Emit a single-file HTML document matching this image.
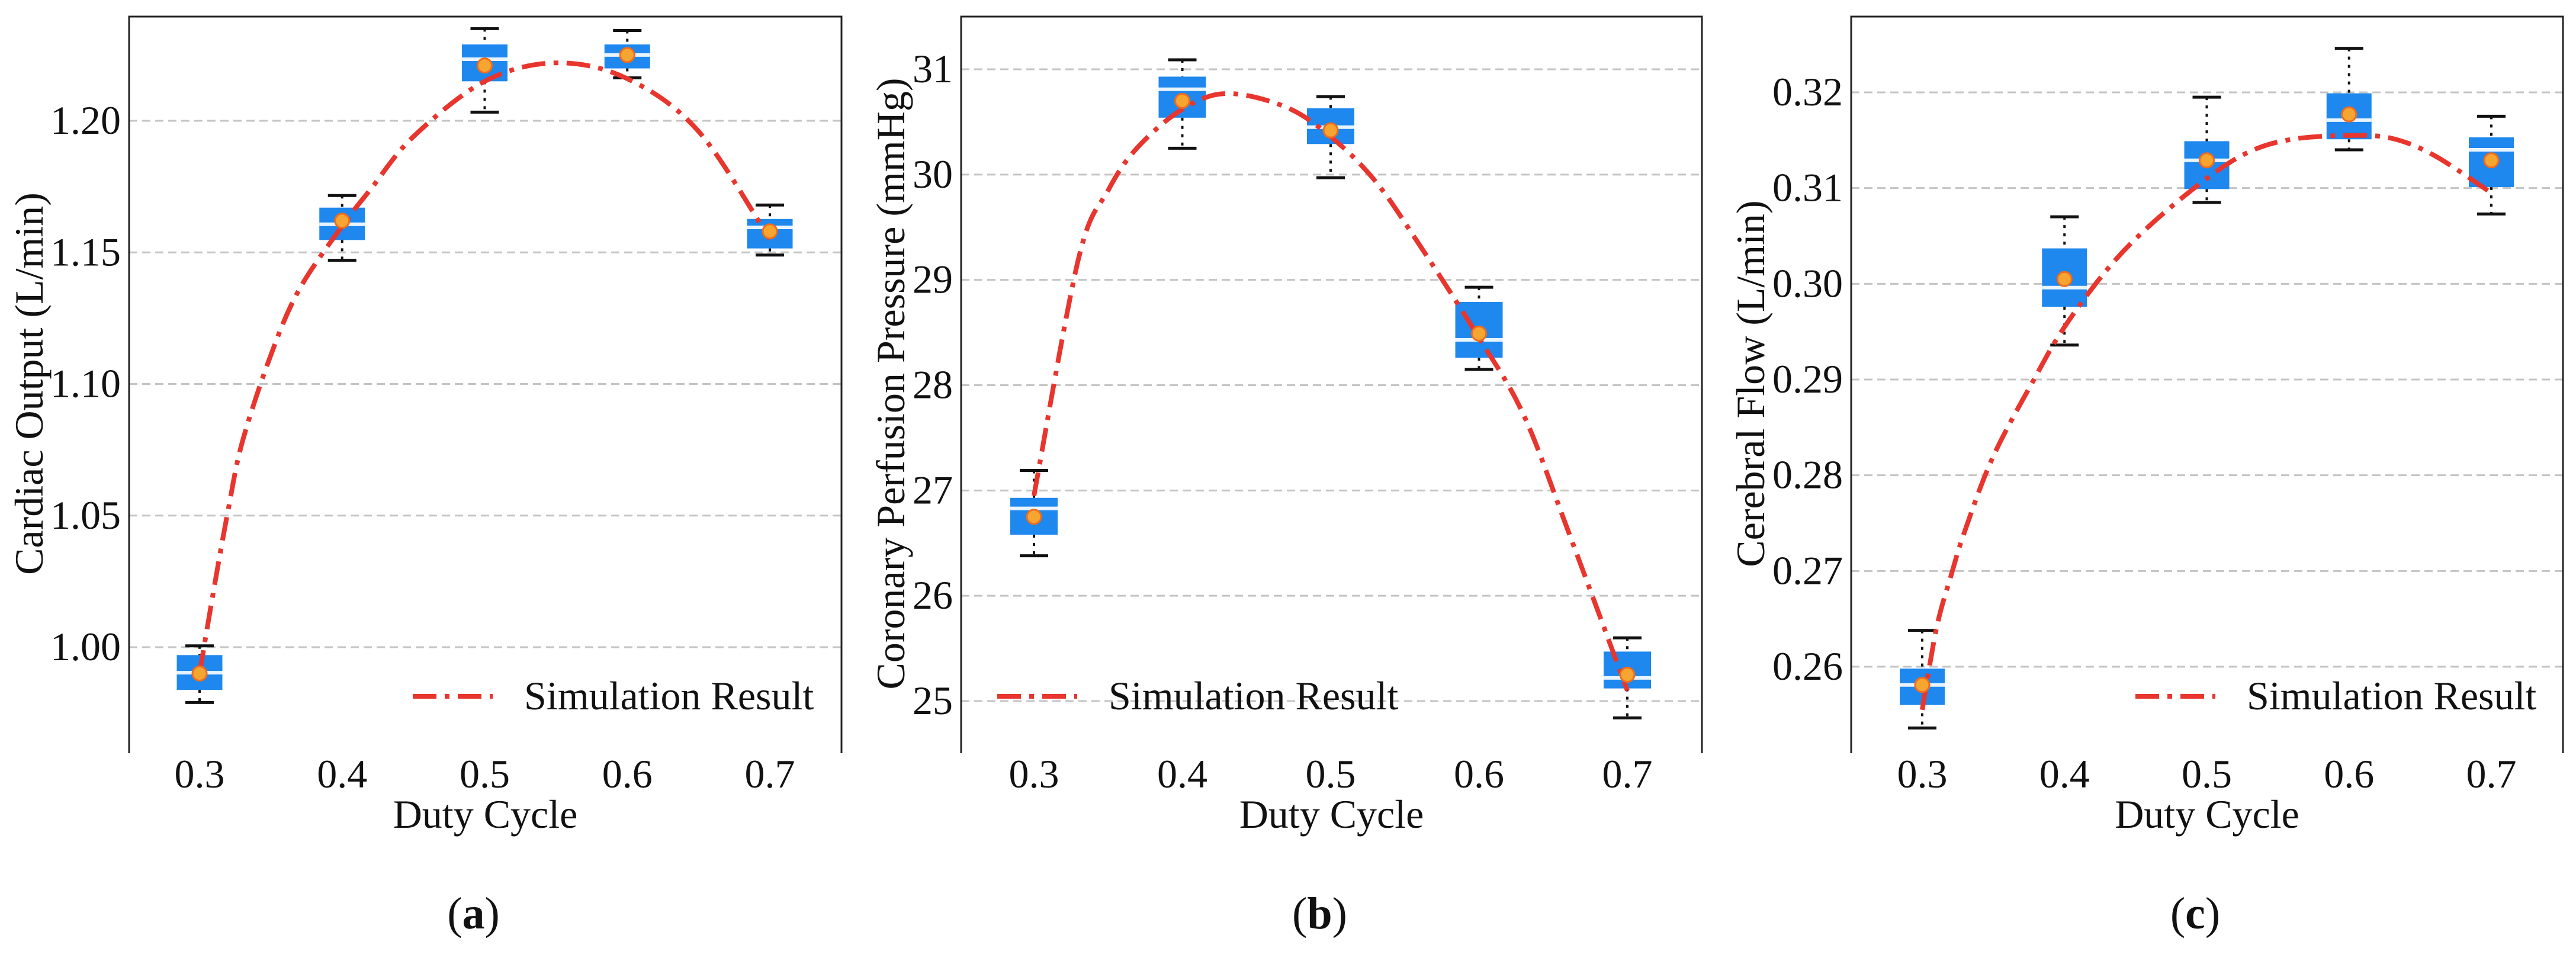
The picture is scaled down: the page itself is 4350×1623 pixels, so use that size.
<!DOCTYPE html>
<html><head><meta charset="utf-8"><style>
html,body{margin:0;padding:0;background:#fff;}
svg{display:block;}
text{font-family:"Liberation Serif",serif;fill:#111;}
</style></head><body>
<svg id="fig" width="4350" height="1623" viewBox="0 0 4350 1623" xmlns="http://www.w3.org/2000/svg"></svg>
<script>
const categories = [0.3, 0.4, 0.5, 0.6, 0.7];
// Panel a: Cardiac Output
const aQ1 = [0.9838, 1.1547, 1.215, 1.2199, 1.1515];
const aQ3 = [0.997, 1.167, 1.229, 1.229, 1.1627];
const aMed = [0.9903, 1.1607, 1.2234, 1.225, 1.1595];
const aMean = [0.990, 1.162, 1.221, 1.225, 1.158];
const aWLo = [0.979, 1.147, 1.2033, 1.2163, 1.149];
const aWHi = [1.0005, 1.1716, 1.235, 1.2343, 1.168];
const aCurveX = [0.30,0.31,0.32,0.33,0.35,0.37,0.40,0.42,0.45,0.50,0.55,0.60,0.65,0.70];
const aCurveY = [0.99,1.022,1.052,1.078,1.111,1.136,1.160,1.174,1.194,1.215,1.222,1.216,1.196,1.155];
const aTicks = [1.00,1.05,1.10,1.15,1.20];
const aTickLabels = ["1.00","1.05","1.10","1.15","1.20"];
// Panel b: Coronary Perfusion Pressure
const bQ1 = [26.58, 30.54, 30.29, 28.26, 25.12];
const bQ3 = [26.93, 30.93, 30.63, 28.79, 25.47];
const bMed = [26.83, 30.81, 30.45, 28.43, 25.22];
const bMean = [26.75, 30.70, 30.42, 28.49, 25.25];
const bWLo = [26.38, 30.25, 29.97, 28.15, 24.84];
const bWHi = [27.19, 31.09, 30.74, 28.93, 25.60];
const bCurveX = [0.30,0.33,0.35,0.37,0.40,0.43,0.47,0.50,0.53,0.56,0.60,0.63,0.66,0.70];
const bCurveY = [26.95,29.20,29.85,30.26,30.62,30.77,30.64,30.36,29.94,29.33,28.45,27.72,26.62,25.10];
const bTicks = [25,26,27,28,29,30,31];
const bTickLabels = ["25","26","27","28","29","30","31"];
// Panel c: Cerebral Flow
const cQ1 = [0.2560, 0.2976, 0.3099, 0.3151, 0.3101];
const cQ3 = [0.2598, 0.3037, 0.3149, 0.3199, 0.3153];
const cMed = [0.2581, 0.2996, 0.3129, 0.3171, 0.3140];
const cMean = [0.2581, 0.3005, 0.3129, 0.3177, 0.3129];
const cWLo = [0.2536, 0.2936, 0.3085, 0.3140, 0.3073];
const cWHi = [0.2638, 0.3070, 0.3195, 0.3246, 0.3175];
const cCurveX = [0.30,0.31,0.32,0.33,0.35,0.38,0.40,0.43,0.46,0.50,0.53,0.56,0.60,0.63,0.66,0.70];
const cCurveY = [0.2555,0.2640,0.2694,0.2742,0.2820,0.2904,0.2955,0.3015,0.3061,0.3110,0.3138,0.3151,0.3155,0.3152,0.3134,0.3095];
const cTicks = [0.26,0.27,0.28,0.29,0.30,0.31,0.32];
const cTickLabels = ["0.26","0.27","0.28","0.29","0.30","0.31","0.32"];

const NS = "http://www.w3.org/2000/svg";
const svg = document.getElementById('fig');
function mk(tag, attrs, parent){
  const e = document.createElementNS(NS, tag);
  for (const k in attrs) e.setAttribute(k, attrs[k]);
  (parent||svg).appendChild(e);
  return e;
}
function smoothPath(pts){
  let d = 'M' + pts[0][0].toFixed(1) + ',' + pts[0][1].toFixed(1);
  for (let i = 0; i < pts.length - 1; i++){
    const p0 = pts[Math.max(0, i-1)], p1 = pts[i], p2 = pts[i+1], p3 = pts[Math.min(pts.length-1, i+2)];
    const c1x = p1[0] + (p2[0]-p0[0])/6, c1y = p1[1] + (p2[1]-p0[1])/6;
    const c2x = p2[0] - (p3[0]-p1[0])/6, c2y = p2[1] - (p3[1]-p1[1])/6;
    d += ` C${c1x.toFixed(1)},${c1y.toFixed(1)} ${c2x.toFixed(1)},${c2y.toFixed(1)} ${p2[0].toFixed(1)},${p2[1].toFixed(1)}`;
  }
  return d;
}

function panel(p){
  const g = mk('g', {});
  
  
  const xs = v => p.x0 + (v - 0.3) / 0.4 * (p.x1tick - p.x0);
  const ys = v => p.yRef0 + (v - p.vRef0) / (p.vRef1 - p.vRef0) * (p.yRef1 - p.yRef0);
  p.ticks.forEach((t, i) => {
    const gl = mk('line', {x1:p.left, x2:p.right, y1:ys(t), y2:ys(t), stroke:'#c4c4c4', 'stroke-width':3, 'stroke-dasharray':'14,8'}, g);
    
    
    const tl = mk('text', {x:p.left - 14, y:ys(t) + 22, 'font-size':68, 'text-anchor':'end'}, g);
    tl.textContent = p.tickLabels[i];
    
    
  });
  const sp = mk('path', {d:`M${p.left},1272 L${p.left},28 L${p.right},28 L${p.right},1272`, fill:'none', stroke:'#222', 'stroke-width':3}, g);
  
  
  categories.forEach(c => {
    const tl = mk('text', {x:xs(c), y:1330, 'font-size':68, 'text-anchor':'middle'}, g);
    tl.textContent = c.toFixed(1);
    
    
  });
  const bw = p.bw;
  categories.forEach((c, i) => {
    const cx = xs(c);
    const bg = mk('g', {}, g);
    
    
    mk('line', {x1:cx, x2:cx, y1:ys(p.wHi[i]), y2:ys(p.q3[i]), stroke:'#111', 'stroke-width':4, 'stroke-dasharray':'5,9'}, bg);
    mk('line', {x1:cx, x2:cx, y1:ys(p.q1[i]), y2:ys(p.wLo[i]), stroke:'#111', 'stroke-width':4, 'stroke-dasharray':'5,9'}, bg);
    mk('line', {x1:cx-24, x2:cx+24, y1:ys(p.wHi[i]), y2:ys(p.wHi[i]), stroke:'#111', 'stroke-width':5}, bg);
    mk('line', {x1:cx-24, x2:cx+24, y1:ys(p.wLo[i]), y2:ys(p.wLo[i]), stroke:'#111', 'stroke-width':5}, bg);
    mk('rect', {x:cx-bw/2, y:ys(p.q3[i]), width:bw, height:ys(p.q1[i])-ys(p.q3[i]), fill:'#1E88EE'}, bg);
    mk('line', {x1:cx-bw/2, x2:cx+bw/2, y1:ys(p.med[i]), y2:ys(p.med[i]), stroke:'#e8f4ff', 'stroke-width':6}, bg);
  });
  const pts = p.cx.map((v, i) => [xs(v), ys(p.cy[i])]);
  const cv = mk('path', {d:smoothPath(pts), fill:'none', stroke:'#E8352D', 'stroke-width':8, 'stroke-dasharray':'40,14,8,14', 'stroke-linejoin':'round'}, g);
  
  
  categories.forEach((c, i) => {
    const m = mk('circle', {cx:xs(c), cy:ys(p.mean[i]), r:12, fill:'#F7A531', stroke:'#F26B1D', 'stroke-width':3}, g);
    
    
  });
  const lg = mk('g', {}, g);
  
  
  mk('line', {x1:p.legX, x2:p.legX+135, y1:1176, y2:1176, stroke:'#E8352D', 'stroke-width':8, 'stroke-dasharray':'40,14,8,14'}, lg);
  const lt = mk('text', {x:p.legX+188, y:1198, 'font-size':68}, lg);
  lt.textContent = 'Simulation Result';
  const xt = mk('text', {x:(p.left+p.right)/2, y:1398, 'font-size':68, 'text-anchor':'middle'}, g);
  xt.textContent = 'Duty Cycle';
  
  
  const yt = mk('text', {x:0, y:0, 'font-size':68, 'text-anchor':'middle', transform:`translate(${p.ylabX},648) rotate(-90)`}, g);
  yt.textContent = p.ylabel;
  
  
  const cap = mk('text', {x:(p.left+p.right)/2 - 20, y:1568, 'font-size':76, 'text-anchor':'middle'}, g);
  cap.innerHTML = '(<tspan font-weight="bold">' + p.id + '</tspan>)';
  
  
}

panel({id:'a', left:218, right:1421, x0:337, x1tick:1300, yRef0:1093, vRef0:1.00, yRef1:204, vRef1:1.20, bw:77,
  q1:aQ1, q3:aQ3, med:aMed, mean:aMean, wLo:aWLo, wHi:aWHi, cx:aCurveX, cy:aCurveY, ticks:aTicks, tickLabels:aTickLabels,
  legX:697, ylabX:72, ylabel:'Cardiac Output  (L/min)'});
panel({id:'b', left:1623, right:2874, x0:1746, x1tick:2748, yRef0:1184, vRef0:25, yRef1:117, vRef1:31, bw:80,
  q1:bQ1, q3:bQ3, med:bMed, mean:bMean, wLo:bWLo, wHi:bWHi, cx:bCurveX, cy:bCurveY, ticks:bTicks, tickLabels:bTickLabels,
  legX:1684, ylabX:1527, ylabel:'Coronary Perfusion Pressure  (mmHg)'});
panel({id:'c', left:3126, right:4328, x0:3246, x1tick:4207, yRef0:1126, vRef0:0.26, yRef1:156, vRef1:0.32, bw:76,
  q1:cQ1, q3:cQ3, med:cMed, mean:cMean, wLo:cWLo, wHi:cWHi, cx:cCurveX, cy:cCurveY, ticks:cTicks, tickLabels:cTickLabels,
  legX:3606, ylabX:2979, ylabel:'Cerebral Flow  (L/min)'});
</script>
</body></html>
